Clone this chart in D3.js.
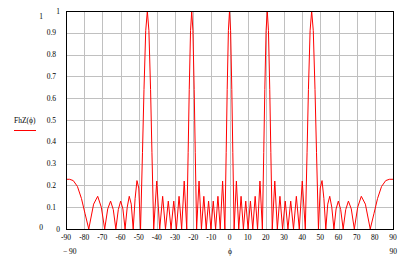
<!DOCTYPE html>
<html>
<head>
<meta charset="utf-8">
<script src="https://cdn.jsdelivr.net/npm/d3@7"></script>
<style>
  body { margin: 0; background: #fff; }
  svg text { font-family: "Liberation Serif", serif; font-size: 7.5px; fill: #000; }
</style>
</head>
<body>
<svg id="chart" width="411" height="256"></svg>
<script>
// angle (deg) and pattern value, peaks and nulls of each lobe
var phi = [
  -90, -88, -86, -83.7, -81.5, -79.5, -77.47, -74.8, -72.55, -70.57, -68.71, -67.04,
  -65.46, -63.97, -62.56, -61.21, -59.91, -58.67, -57.48, -56.3, -55.18, -54.08, -53.01,
  -51.96, -50.94, -49.95, -48.96, -47.9, -47.07, -46.11, -45.23, -44.37, -43.45, -42.69,
  -41.73, -40.05, -38.41, -36.8, -35.23, -33.69, -32.17, -30.68, -29.22, -27.77, -26.34,
  -24.93, -23.54, -22.76, -22.16, -21.45, -20.79, -20.14, -19.44, -18.85, -18.1, -16.77,
  -15.44, -14.13, -12.82, -11.52, -10.22, -8.94, -7.65, -6.37, -5.09, -3.8, -2.54, -1.83,
  -1.27, -0.61, 0,
  0.61, 1.27, 1.83, 2.54, 3.8, 5.09, 6.37, 7.65, 8.94, 10.22, 11.52, 12.82, 14.13, 15.44,
  16.77, 18.1, 18.85, 19.44, 20.14, 20.79, 21.45, 22.16, 22.76, 23.54, 24.93, 26.34, 27.77,
  29.22, 30.68, 32.17, 33.69, 35.23, 36.8, 38.41, 40.05, 41.73, 42.69, 43.45, 44.37, 45.23,
  46.11, 47.07, 47.9, 48.96, 49.95, 50.94, 51.96, 53.01, 54.08, 55.18, 56.3, 57.48, 58.67,
  59.91, 61.21, 62.56, 63.97, 65.46, 67.04, 68.71, 70.57, 72.55, 74.8, 77.47, 79.5, 81.5,
  83.7, 86, 88, 90
];
var fhz = [
  0.228, 0.228, 0.222, 0.195, 0.14, 0.07, 0, 0.114, 0.15, 0.1, 0, 0.092,
  0.128, 0.089, 0, 0.089, 0.128, 0.092, 0, 0.1, 0.15, 0.114, 0,
  0.139, 0.222, 0.188, 0, 0.35, 0.64, 0.91, 1, 0.91, 0.64, 0.35,
  0, 0.22, 0, 0.15, 0, 0.128, 0, 0.128, 0, 0.15, 0,
  0.22, 0, 0.35, 0.64, 0.91, 1, 0.91, 0.64, 0.35, 0, 0.22,
  0, 0.15, 0, 0.128, 0, 0.128, 0, 0.15, 0, 0.22, 0, 0.35,
  0.64, 0.91, 1,
  0.91, 0.64, 0.35, 0, 0.22, 0, 0.15, 0, 0.128, 0, 0.128, 0, 0.15, 0,
  0.22, 0, 0.35, 0.64, 0.91, 1, 0.91, 0.64, 0.35, 0, 0.22, 0, 0.15,
  0, 0.128, 0, 0.128, 0, 0.15, 0, 0.22, 0, 0.35, 0.64, 0.91, 1,
  0.91, 0.64, 0.35, 0, 0.188, 0.222, 0.139, 0, 0.114, 0.15, 0.1, 0, 0.092,
  0.128, 0.089, 0, 0.089, 0.128, 0.092, 0, 0.1, 0.15, 0.114, 0, 0.07, 0.14,
  0.195, 0.222, 0.228, 0.228
];
var xTicks = [-90, -80, -70, -60, -50, -40, -30, -20, -10, 0, 10, 20, 30, 40, 50, 60, 70, 80, 90];
var yTicks = [0, 0.1, 0.2, 0.3, 0.4, 0.5, 0.6, 0.7, 0.8, 0.9, 1];
var yLabels = ["0", "0.1", "0.2", "0.3", "0.4", "0.5", "0.6", "0.7", "0.8", "0.9", "1"];

var svg = d3.select("#chart");

var x = d3.scaleLinear().domain([-90, 90]).range([66, 393]);
var y = d3.scaleLinear().domain([0, 1]).range([229, 11]);

// grid
svg.append("g")
    .selectAll("line.vx")
    .data(xTicks.slice(1, -1))
    .enter().append("line")
    .attr("x1", function (d) { return Math.round(x(d)) + 0.5; })
    .attr("x2", function (d) { return Math.round(x(d)) + 0.5; })
    .attr("y1", y(1)).attr("y2", y(0))
    .attr("stroke", "#c0c0c0");

svg.append("g")
    .selectAll("line")
    .data(yTicks.slice(1, -1))
    .enter().append("line")
    .attr("x1", x(-90)).attr("x2", x(90))
    .attr("y1", function (d) { return Math.round(y(d)) + 0.5; })
    .attr("y2", function (d) { return Math.round(y(d)) + 0.5; })
    .attr("stroke", "#c0c0c0");

// curve
var line = d3.line()
    .x(function (d) { return x(d[0]); })
    .y(function (d) { return y(d[1]); });

svg.append("path")
    .datum(d3.zip(phi, fhz))
    .attr("fill", "none")
    .attr("stroke", "#ff0000")
    .attr("stroke-width", 1)
    .attr("d", line);

// frame
svg.append("rect")
    .attr("x", x(-90) + 0.5).attr("y", y(1) + 0.5)
    .attr("width", x(90) - x(-90)).attr("height", y(0) - y(1))
    .attr("fill", "none")
    .attr("stroke", "#000");

// tick labels
svg.append("g")
    .selectAll("text")
    .data(yTicks)
    .enter().append("text")
    .attr("x", function (d) { return (d === 0 || d === 1) ? 60 : 56; })
    .attr("y", function (d) { return y(d) + 2.5; })
    .attr("text-anchor", "end")
    .text(function (d, i) { return yLabels[i]; });

svg.append("g")
    .selectAll("text")
    .data(xTicks)
    .enter().append("text")
    .attr("x", function (d) { return x(d); })
    .attr("y", 240)
    .attr("text-anchor", "middle")
    .text(function (d) { return d; });

// axis limits and labels, Mathcad style
svg.append("text").attr("x", 41).attr("y", 19).attr("text-anchor", "middle").text("1");
svg.append("text").attr("x", 41).attr("y", 230).attr("text-anchor", "middle").text("0");
svg.append("text").attr("x", 63).attr("y", 254).text("\u2212 90");
svg.append("text").attr("x", 397).attr("y", 254).attr("text-anchor", "end").text("90");
svg.append("text").attr("x", 230).attr("y", 254).attr("text-anchor", "middle").text("\u03d5");

svg.append("text").attr("x", 14).attr("y", 123).text("FhZ(\u03d5)");
svg.append("line")
    .attr("x1", 14).attr("x2", 36)
    .attr("y1", 130.5).attr("y2", 130.5)
    .attr("stroke", "#ff0000");
</script>
</body>
</html>
